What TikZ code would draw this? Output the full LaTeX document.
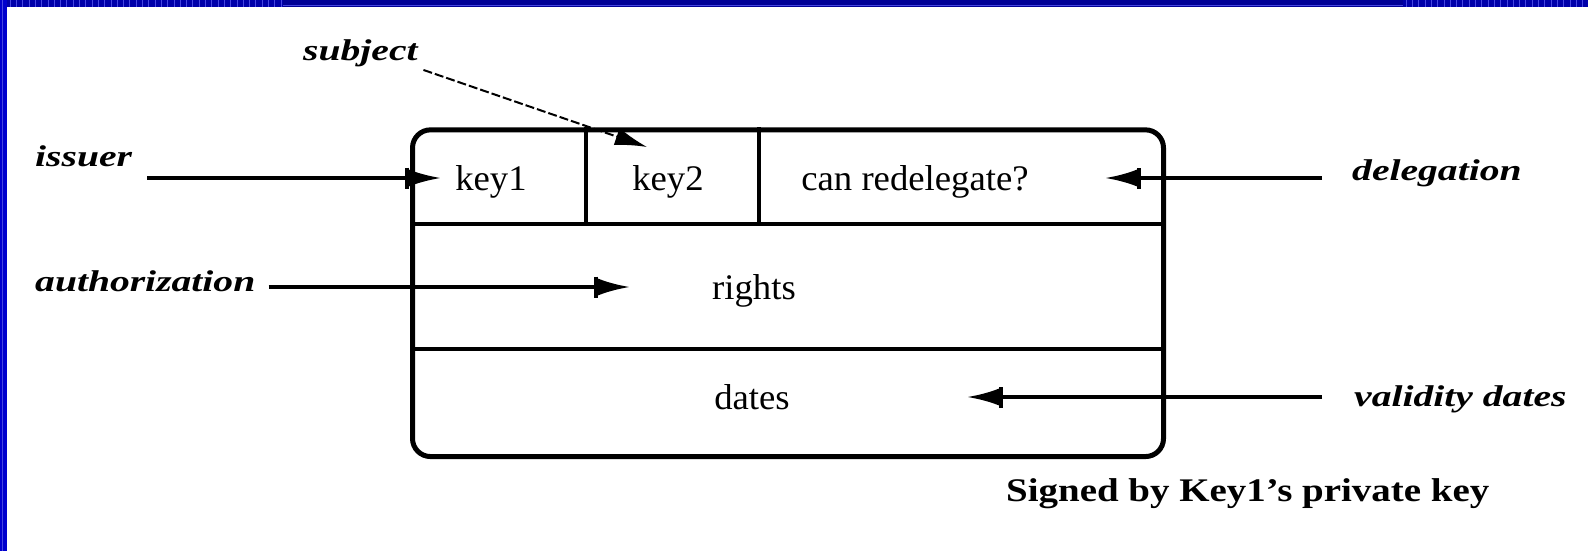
\documentclass[tikz,border=0pt]{standalone}
\usepackage{fontspec}
\usepackage{graphicx}
\setmainfont{Liberation Serif}
\usetikzlibrary{arrows.meta}

\definecolor{bandtop}{RGB}{0,0,170}
\definecolor{bandmid}{RGB}{0,0,150}
\definecolor{bandleft}{RGB}{0,0,205}
\definecolor{bandline}{RGB}{70,70,225}

% wide bold-italic callout labels
\newcommand\calloutlbl[1]{\scalebox{1.32}[1]{\fontsize{30}{30}\selectfont\bfseries\itshape #1}}
\newcommand\fieldtxt[1]{\scalebox{1.02}[1]{\fontsize{36}{36}\selectfont #1}}

\tikzset{
  x=1pt, y=-1pt,
  callout/.style={inner sep=0pt, anchor=base west},
  field/.style={inner sep=0pt, anchor=base},
  pointer/.style={line width=3.2pt,
    -{Bar[width=21pt,line width=4pt,sep=0pt]Latex[length=32pt,width=17pt]}},
  dashptr/.style={line width=2pt, dash pattern=on 9pt off 3pt,
    -{Latex[length=32pt,width=18pt]}},
  divider/.style={line width=3.6pt},
}

\begin{document}
\begin{tikzpicture}
\useasboundingbox (0,0) rectangle (1588,551);

% window frame bands
\fill[bandtop] (0,0) rectangle (1588,7.3);
\fill[bandmid] (283,0) rectangle (1403,7.3);
\draw[bandline, line width=0.8pt] (283,5.7) -- (1403,5.7);
\foreach \i in {0,...,43} {
  \draw[bandline, line width=0.6pt] (10+6.3*\i,0) -- (10+6.3*\i,7.3);
}
\foreach \i in {0,...,29} {
  \draw[bandline, line width=0.6pt] (1406+6.3*\i,0) -- (1406+6.3*\i,7.3);
}
\fill[bandleft] (0,0) rectangle (7.3,551);
\draw[bandline, line width=0.8pt] (2.3,0) -- (2.3,551);

% the certificate card
\node[draw, line width=5pt, rounded corners=18pt, inner sep=0pt,
      minimum width=751pt, minimum height=326.7pt] (card) at (788,293.2) {};

\coordinate (row1) at (0,224);
\coordinate (row2) at (0,349);
\coordinate (col1) at (586,0);
\coordinate (col2) at (758.7,0);
\draw[divider] (card.west |- row1) -- (card.east |- row1);
\draw[divider] (card.west |- row2) -- (card.east |- row2);
\draw[divider] (card.north -| col1) -- (col1 |- row1);
\draw[divider] (card.north -| col2) -- (col2 |- row1);

% field contents
\node[field] (key1) at (491,190) {\fieldtxt{key1}};
\node[field] (key2) at (668,190) {\fieldtxt{key2}};
\node[field] (redeleg) at (915,190) {\fieldtxt{can redelegate?}};
\node[field] (rights) at (754,299) {\fieldtxt{rights}};
\node[field] (dates) at (752,409) {\fieldtxt{dates}};

% callout labels
\node[callout] (subject) at (303,61) {\calloutlbl{subject}};
\node[callout] (issuer) at (35,166) {\calloutlbl{issuer}};
\node[callout] (authz) at (35,291) {\calloutlbl{authorization}};
\node[callout] (deleg) at (1352,180) {\calloutlbl{delegation}};
\node[callout] (validity) at (1354,406) {\calloutlbl{validity dates}};
\node[inner sep=0pt, anchor=base west] (signed) at (1006,501)
  {\scalebox{1.18}[1]{\fontsize{33}{33}\selectfont\bfseries Signed by Key1’s private key}};

% pointer tips
\coordinate (issuer-tip) at (441,178);
\coordinate (authz-tip) at (630,287);
\coordinate (deleg-tip) at (1105,178);
\coordinate (validity-tip) at (967,397);
\coordinate (subject-tip) at (647,147);

% pointers
\draw[pointer, shorten <=15pt] (issuer.east |- issuer-tip) -- (issuer-tip);
\draw[pointer, shorten <=13pt] (authz.east |- authz-tip) -- (authz-tip);
\draw[pointer, shorten <=30pt] (deleg.west |- deleg-tip) -- (deleg-tip);
\draw[pointer, shorten <=32pt] (validity.west |- validity-tip) -- (validity-tip);
\draw[dashptr, shorten <=6pt] (subject.east |- 0,68) -- (subject-tip);
\end{tikzpicture}
\end{document}
